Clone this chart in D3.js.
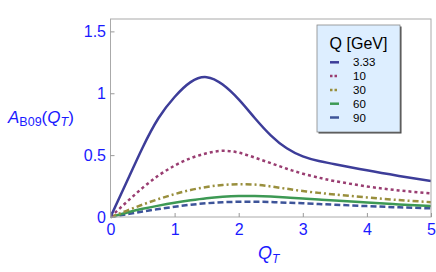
<!DOCTYPE html>
<html>
<head>
<meta charset="utf-8">
<script src="https://cdn.jsdelivr.net/npm/d3@7"></script>
<style>
  html, body { margin: 0; padding: 0; background: #fff; }
  svg { display: block; }
</style>
</head>
<body>
<svg id="chart" width="436" height="272"></svg>
<script>
// ---- data ----
const qt = [0, 0.25, 0.5, 0.75, 1, 1.25, 1.5, 1.75, 2, 2.25, 2.5, 2.75, 3, 3.25, 3.5, 4, 4.5, 5];
const seriesNames = ["3.33", "10", "30", "60", "90"];
const a333 = [0, 0.28, 0.56, 0.80, 0.97, 1.09, 1.13, 1.07, 0.95, 0.80, 0.66, 0.555, 0.49, 0.452, 0.427, 0.377, 0.332, 0.29];
const a10  = [0, 0.12, 0.235, 0.335, 0.415, 0.475, 0.515, 0.535, 0.52, 0.48, 0.435, 0.39, 0.35, 0.318, 0.29, 0.247, 0.215, 0.19];
const a30  = [0, 0.05, 0.10, 0.145, 0.185, 0.218, 0.243, 0.259, 0.265, 0.262, 0.247, 0.228, 0.21, 0.195, 0.182, 0.158, 0.137, 0.12];
const a60  = [0, 0.035, 0.066, 0.092, 0.115, 0.135, 0.152, 0.163, 0.169, 0.169, 0.165, 0.158, 0.15, 0.141, 0.133, 0.117, 0.102, 0.089];
const a90  = [0, 0.022, 0.044, 0.064, 0.083, 0.099, 0.111, 0.119, 0.123, 0.123, 0.121, 0.116, 0.111, 0.105, 0.099, 0.088, 0.078, 0.07];
const xTicks = [0, 1, 2, 3, 4, 5];
const yTicks = [0, 0.5, 1, 1.5];
const yTickLabels = ["0", "0.5", "1", "1.5"];
const legendTitle = "Q [GeV]";

const allSeries = [a333, a10, a30, a60, a90];
const colors = ["#3d3d99", "#993d71", "#998f3d", "#3d9954", "#3d5499"];
const dashes = [null, "3,3", "6,3,2,3", null, "6,3"];
const legendDashes = [null, "2.5,2", "2.5,2", null, null];

const svg = d3.select("#chart");
const L = 110.5, R = 431, T = 19, B = 217;
const x = d3.scaleLinear().domain([0, 5]).range([L, R]);
const y = d3.scaleLinear().domain([0, 1.6]).range([B, T]);

const font = "Liberation Sans, Arial, sans-serif";
const blue = "#1a1aff";

svg.append("defs").append("clipPath").attr("id", "plotclip")
  .append("rect").attr("x", L).attr("y", T - 2).attr("width", R - L).attr("height", B - T + 4);

// curves
const line = d3.line().x(d => x(d[0])).y(d => y(d[1])).curve(d3.curveNatural);
const g = svg.append("g").attr("clip-path", "url(#plotclip)");
allSeries.slice().reverse().forEach((vals, ri) => {
  const i = allSeries.length - 1 - ri;
  g.append("path")
    .datum(qt.map((q, k) => [q, vals[k]]))
    .attr("d", line)
    .attr("fill", "none")
    .attr("stroke", colors[i])
    .attr("stroke-width", 2.5)
    .attr("stroke-dasharray", dashes[i]);
});

// frame
svg.append("rect").attr("x", L).attr("y", T).attr("width", R - L).attr("height", B - T)
  .attr("fill", "none").attr("stroke", "#aaaaaa").attr("stroke-width", 1);

// axes ticks (inside)
const xAxis = d3.axisBottom(x).tickValues(xTicks).tickSize(-4).tickPadding(8).tickFormat(d3.format("d"));
const gx = svg.append("g").attr("transform", `translate(0,${B})`).call(xAxis);
gx.select(".domain").remove();
gx.selectAll(".tick line").attr("stroke", "#999");
gx.selectAll(".tick text").attr("fill", blue).attr("font-family", font).attr("font-size", 16)
  .attr("y", 17.5).attr("dy", null);

const yAxis = d3.axisLeft(y).tickValues(yTicks).tickSize(-4).tickPadding(5)
  .tickFormat((d, i) => yTickLabels[i]);
const gy = svg.append("g").attr("transform", `translate(${L},0)`).call(yAxis);
gy.select(".domain").remove();
gy.selectAll(".tick line").attr("stroke", "#999");
gy.selectAll(".tick text").attr("fill", blue).attr("font-family", font).attr("font-size", 16)
  .attr("x", -4.5).attr("dy", "0.35em");

// axis titles
const xt = svg.append("text").attr("x", (L + R) / 2 - 2).attr("y", 259)
  .attr("text-anchor", "middle").attr("fill", blue).attr("font-family", font).attr("font-size", 18);
xt.append("tspan").attr("font-style", "italic").text("Q");
xt.append("tspan").attr("font-style", "italic").attr("font-size", 12).attr("dy", 3.5).text("T");

const yt = svg.append("text").attr("x", 8).attr("y", 122.5)
  .attr("fill", blue).attr("font-family", font).attr("font-size", 17);
yt.append("tspan").attr("font-style", "italic").text("A");
yt.append("tspan").attr("font-size", 12.5).attr("dy", 3).text("B09");
yt.append("tspan").attr("dy", -3).text("(");
yt.append("tspan").attr("font-style", "italic").text("Q");
yt.append("tspan").attr("font-style", "italic").attr("font-size", 12.5).attr("dy", 3).text("T");
yt.append("tspan").attr("dy", -3).text(")");

// legend
const lg = svg.append("g");
const bx = 317, by = 25, bw = 83, bh = 107;
lg.append("rect").attr("x", bx + 1.5).attr("y", by + 1.5).attr("width", bw).attr("height", bh).attr("fill", "#444");
lg.append("rect").attr("x", bx).attr("y", by).attr("width", bw).attr("height", bh)
  .attr("fill", "#ddeeff").attr("stroke", "#888").attr("stroke-width", 0.8);
lg.append("text").attr("x", bx + bw / 2).attr("y", 49).attr("text-anchor", "middle")
  .attr("font-family", font).attr("font-size", 16).attr("fill", "#000").text(legendTitle);
seriesNames.forEach((name, i) => {
  const yy = 62.3 + i * 13.8;
  lg.append("line").attr("x1", 330).attr("x2", 339).attr("y1", yy).attr("y2", yy)
    .attr("stroke", colors[i]).attr("stroke-width", 2.5).attr("stroke-dasharray", legendDashes[i]);
  lg.append("text").attr("x", 353).attr("y", yy + 4)
    .attr("font-family", font).attr("font-size", 11.5).attr("fill", "#000").text(name);
});
</script>
</body>
</html>
